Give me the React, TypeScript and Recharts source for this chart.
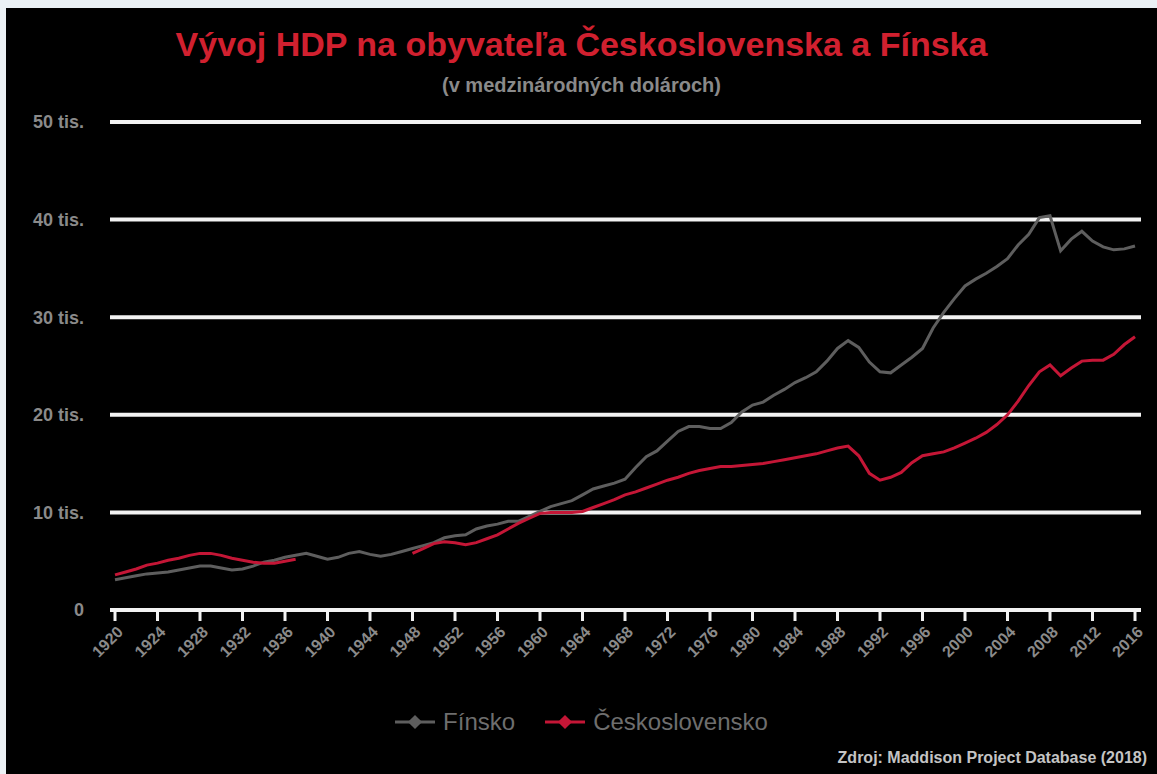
import React from 'react';
import { LineChart, Line, XAxis, YAxis, CartesianGrid } from 'recharts';

// years 1920 - 2016, one point per year
const years = Array.from({ length: 97 }, (_, i) => 1920 + i);

// HDP na obyvateľa, v tisícoch medzinárodných dolárov
const finsko = [
  3.1, 3.3, 3.5, 3.7, 3.8, 3.9, 4.1, 4.3, 4.5, 4.5,
  4.3, 4.1, 4.2, 4.5, 4.9, 5.1, 5.4, 5.6, 5.8, 5.5,
  5.2, 5.4, 5.8, 6.0, 5.7, 5.5, 5.7, 6.0, 6.3, 6.6,
  6.9, 7.4, 7.6, 7.7, 8.3, 8.6, 8.8, 9.1, 9.1, 9.6,
  10.1, 10.6, 10.9, 11.2, 11.8, 12.4, 12.7, 13.0, 13.4, 14.6,
  15.7, 16.3, 17.3, 18.3, 18.8, 18.8, 18.6, 18.6, 19.2, 20.3,
  21.0, 21.3, 22.0, 22.6, 23.3, 23.8, 24.4, 25.5, 26.8, 27.6,
  26.9, 25.4, 24.4, 24.3, 25.1, 25.9, 26.8, 28.9, 30.5, 31.9,
  33.2, 33.9, 34.5, 35.2, 36.0, 37.4, 38.5, 40.2, 40.4, 36.8,
  38.0, 38.8, 37.8, 37.2, 36.9, 37.0, 37.3,
];

const ceskoslovensko = [
  3.6, 3.9, 4.2, 4.6, 4.8, 5.1, 5.3, 5.6, 5.8, 5.8,
  5.6, 5.3, 5.1, 4.9, 4.8, 4.8, 5.0, 5.2, null, null,
  null, null, null, null, null, null, null, null, 5.8, 6.3,
  6.8, 7.0, 6.9, 6.7, 6.9, 7.3, 7.7, 8.3, 8.9, 9.4,
  9.9, 10.0, 10.0, 10.0, 10.1, 10.5, 10.9, 11.3, 11.8, 12.1,
  12.5, 12.9, 13.3, 13.6, 14.0, 14.3, 14.5, 14.7, 14.7, 14.8,
  14.9, 15.0, 15.2, 15.4, 15.6, 15.8, 16.0, 16.3, 16.6, 16.8,
  15.8, 14.0, 13.3, 13.6, 14.1, 15.1, 15.8, 16.0, 16.2, 16.6,
  17.1, 17.6, 18.2, 19.0, 20.0, 21.4, 23.0, 24.4, 25.1, 24.0,
  24.8, 25.5, 25.6, 25.6, 26.2, 27.2, 28.0,
];

const xTicks = [
  1920, 1924, 1928, 1932, 1936, 1940, 1944, 1948, 1952, 1956, 1960, 1964, 1968,
  1972, 1976, 1980, 1984, 1988, 1992, 1996, 2000, 2004, 2008, 2012, 2016,
];
const yTicks = [0, 10, 20, 30, 40, 50];

const data = years.map((year, i) => ({
  year,
  finsko: finsko[i],
  ceskoslovensko: ceskoslovensko[i],
}));

const FONT = '"Liberation Sans", Arial, sans-serif';
const GRAY_LINE = '#5e5e5e';
const RED_LINE = '#c41636';
const LABEL = '#8a8a8a';

const YearTick = (props: any) => {
  const { x, y, payload } = props;
  return (
    <text
      x={x + 9}
      y={y + 10}
      textAnchor="end"
      transform={`rotate(-45, ${x + 9}, ${y + 10})`}
      fill={LABEL}
      fontSize={16}
      fontWeight="bold"
      fontFamily={FONT}
    >
      {payload.value}
    </text>
  );
};

const legendItems = [
  { name: 'Fínsko', color: GRAY_LINE },
  { name: 'Československo', color: RED_LINE },
];

const ChartLegend = () => (
  <div
    style={{
      position: 'absolute', top: 700, left: 0, width: '100%',
      display: 'flex', justifyContent: 'center', gap: 30, fontFamily: FONT,
    }}
  >
    {legendItems.map((item) => (
      <div key={item.name} style={{ display: 'flex', alignItems: 'center' }}>
        <svg width={40} height={20} style={{ marginRight: 8 }}>
          <line x1={0} y1={10} x2={40} y2={10} stroke={item.color} strokeWidth={3} />
          <rect x={15} y={5} width={10} height={10} fill={item.color} transform="rotate(45, 20, 10)" />
        </svg>
        <span style={{ color: '#6e6e6e', fontSize: 24 }}>{item.name}</span>
      </div>
    ))}
  </div>
);

export default function App() {
  return (
    <div style={{ position: 'fixed', left: 0, top: 0, width: 1157, height: 774, background: '#ebf1f5' }}>
      <div style={{ position: 'absolute', left: 6, top: 8, width: 1151, height: 766, background: '#000' }}>
        <div
          style={{
            position: 'absolute', top: 17, width: '100%', textAlign: 'center',
            color: '#d1202f', fontFamily: FONT, fontWeight: 'bold', fontSize: 34,
          }}
        >
          Vývoj HDP na obyvateľa Československa a Fínska
        </div>
        <div
          style={{
            position: 'absolute', top: 66, width: '100%', textAlign: 'center',
            color: LABEL, fontFamily: FONT, fontWeight: 'bold', fontSize: 20,
          }}
        >
          (v medzinárodných dolároch)
        </div>
        <LineChart
          width={1151}
          height={766}
          data={data}
          margin={{ top: 114, right: 16, left: 24, bottom: 94 }}
        >
          <CartesianGrid horizontal vertical={false} stroke="#f2f2f2" strokeWidth={4} />
          <XAxis
            dataKey="year"
            type="number"
            domain={[1920, 2016]}
            ticks={xTicks}
            padding={{ left: 5, right: 6 }}
            interval={0}
            height={70}
            axisLine={{ stroke: '#f2f2f2', strokeWidth: 4 }}
            tickLine={{ stroke: '#f2f2f2', strokeWidth: 3 }}
            tickSize={11}
            tick={<YearTick />}
          />
          <YAxis
            domain={[0, 50]}
            ticks={yTicks}
            width={80}
            axisLine={false}
            tickLine={false}
            tickSize={0}
            tickMargin={26}
            tickFormatter={(v: number) => (v === 0 ? '0' : `${v} tis.`)}
            tick={{ fill: LABEL, fontSize: 18, fontWeight: 'bold', fontFamily: FONT }}
          />
          <Line
            type="linear"
            dataKey="finsko"
            name="Fínsko"
            stroke={GRAY_LINE}
            strokeWidth={3}
            dot={false}
            isAnimationActive={false}
          />
          <Line
            type="linear"
            dataKey="ceskoslovensko"
            name="Československo"
            stroke={RED_LINE}
            strokeWidth={3}
            dot={false}
            connectNulls={false}
            isAnimationActive={false}
          />
        </LineChart>
        <ChartLegend />
        <div
          style={{
            position: 'absolute', right: 10, bottom: 7,
            color: '#c4c4c4', fontFamily: FONT, fontWeight: 'bold', fontSize: 16,
          }}
        >
          Zdroj: Maddison Project Database (2018)
        </div>
      </div>
    </div>
  );
}
